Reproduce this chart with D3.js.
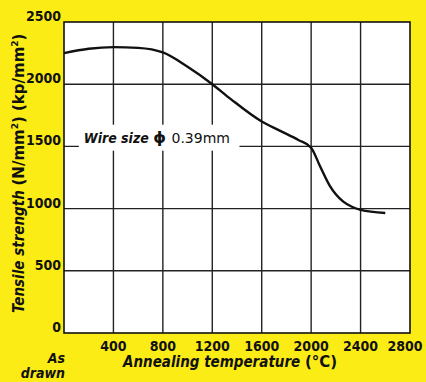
<!DOCTYPE html>
<html lang="en">
<head>
<meta charset="UTF-8">
<title>Tensile strength vs annealing temperature</title>
<script src="https://cdnjs.cloudflare.com/ajax/libs/d3/7.8.5/d3.min.js"></script>
<style>
    body {
        margin: 0;
        background: #fcec16;
        overflow: hidden;
    }
    text {
        font-family: 'DejaVu Sans Condensed', 'DejaVu Sans', sans-serif;
        font-weight: bold;
        fill: #111;
    }
    .wide {
        font-family: 'DejaVu Sans', sans-serif;
    }
</style>
</head>
<body>
<div id="chart"></div>
<script>
// annealing temperature (°C) and tensile strength (N/mm²)
const temps    = [0, 200, 400, 600, 800, 1000, 1200, 1350, 1600, 1750, 1900, 2000, 2070, 2150, 2260, 2330, 2400, 2600];
const strength = [2250, 2285, 2298, 2292, 2255, 2140, 2000, 1880, 1700, 1625, 1550, 1490, 1345, 1185, 1056, 1015, 990, 965];
const xTicks = [400, 800, 1200, 1600, 2000, 2400, 2800];
const yTicks = [0, 500, 1000, 1500, 2000, 2500];

const width = 426, height = 382;
const margin = {top: 22, right: 16, bottom: 49, left: 64};

const svg = d3.select("#chart")
    .append("svg")
    .attr("width", width)
    .attr("height", height);

const x = d3.scaleLinear().domain([0, 2800]).range([margin.left, width - margin.right]);
const y = d3.scaleLinear().domain([0, 2500]).range([height - margin.bottom, margin.top]);

// plot background
svg.append("rect")
    .attr("x", x(0)).attr("y", y(2500))
    .attr("width", x(2800) - x(0)).attr("height", y(0) - y(2500))
    .attr("fill", "#fff");

// grid
svg.append("g")
    .selectAll("line")
    .data(xTicks.slice(0, -1))
    .join("line")
    .attr("x1", d => x(d)).attr("x2", d => x(d))
    .attr("y1", y(0)).attr("y2", y(2500))
    .attr("stroke", "#222").attr("stroke-width", 1.4);

svg.append("g")
    .selectAll("line")
    .data(yTicks.slice(1, -1))
    .join("line")
    .attr("x1", x(0)).attr("x2", x(2800))
    .attr("y1", d => y(d)).attr("y2", d => y(d))
    .attr("stroke", "#222").attr("stroke-width", 1.4);

// frame
svg.append("rect")
    .attr("x", x(0)).attr("y", y(2500))
    .attr("width", x(2800) - x(0)).attr("height", y(0) - y(2500))
    .attr("fill", "none").attr("stroke", "#111").attr("stroke-width", 1.6);

// label with white background (covers grid)
const lab = svg.append("g");
lab.append("rect")
    .attr("x", x(120)).attr("y", y(1530) - 18)
    .attr("width", x(1420) - x(120)).attr("height", 26)
    .attr("fill", "#fff");
const labText = lab.append("text")
    .attr("x", x(160)).attr("y", y(1530))
    .attr("font-size", 14);
labText.append("tspan").attr("font-style", "italic").text("Wire size ");
labText.append("tspan").attr("class", "wide").attr("font-size", 16).text("\u03D5 ");
labText.append("tspan").attr("class", "wide").attr("font-weight", "normal").attr("font-size", 14).text("0.39mm");

// curve
const line = d3.line()
    .x((d, i) => x(temps[i]))
    .y(d => y(d))
    .curve(d3.curveMonotoneX);

svg.append("path")
    .datum(strength)
    .attr("d", line)
    .attr("fill", "none")
    .attr("stroke", "#111")
    .attr("stroke-width", 2.4);

// y tick labels
svg.append("g")
    .selectAll("text")
    .data(yTicks)
    .join("text")
    .attr("x", x(0) - 3)
    .attr("y", d => y(d) - 1)
    .attr("text-anchor", "end")
    .attr("font-size", 14)
    .text(d => d);

// x tick labels (last one pulled in so it stays on the page)
svg.append("g")
    .selectAll("text")
    .data(xTicks)
    .join("text")
    .attr("x", d => Math.min(x(d), width - 21))
    .attr("y", y(0) + 18)
    .attr("text-anchor", "middle")
    .attr("font-size", 14)
    .text(d => d);

// "As drawn"
svg.append("text")
    .attr("x", 65).attr("y", 363)
    .attr("text-anchor", "end")
    .attr("font-size", 14).attr("font-style", "italic")
    .text("As");
svg.append("text")
    .attr("x", 65).attr("y", 378)
    .attr("text-anchor", "end")
    .attr("font-size", 14).attr("font-style", "italic")
    .text("drawn");

// x axis title
const xt = svg.append("text")
    .attr("x", 123).attr("y", 367)
    .attr("font-size", 15);
xt.append("tspan").attr("font-style", "italic").text("Annealing temperature ");
xt.append("tspan").attr("class", "wide").text("(\u00B0C)");

// y axis title
const yt = svg.append("text")
    .attr("transform", "translate(24,313) rotate(-90)")
    .attr("font-size", 15);
yt.append("tspan").attr("font-style", "italic").text("Tensile strength  ");
yt.append("tspan").attr("class", "wide").text("(N/mm");
yt.append("tspan").attr("class", "wide").attr("font-size", 9).attr("dy", -6).text("2");
yt.append("tspan").attr("class", "wide").attr("dy", 6).text(") (kp/mm");
yt.append("tspan").attr("class", "wide").attr("font-size", 9).attr("dy", -6).text("2");
yt.append("tspan").attr("class", "wide").attr("dy", 6).text(")");
</script>
</body>
</html>
